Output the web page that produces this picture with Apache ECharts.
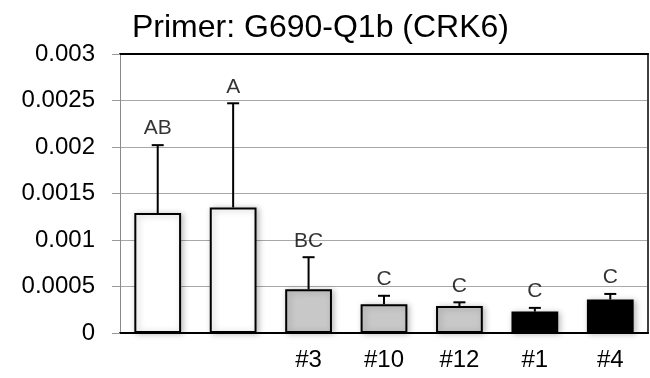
<!DOCTYPE html>
<html>
<head>
<meta charset="utf-8">
<script src="https://cdn.jsdelivr.net/npm/echarts@6/dist/echarts.min.js"></script>
<style>
html,body{margin:0;padding:0;background:#fff;}
#chart{width:650px;height:378px;}
</style>
</head>
<body>
<div id="chart"></div>
<script>
// ---- data ----
const titleText = 'Primer: G690-Q1b (CRK6)';
const categories = ['', '', '#3', '#10', '#12', '#1', '#4'];
const values = [0.00129, 0.00135, 0.00047, 0.00031, 0.00029, 0.00023, 0.00036];
const errorsUp = [0.00073, 0.00112, 0.000345, 0.00009, 0.00004, 0.00004, 0.00006];
const letters = ['AB', 'A', 'BC', 'C', 'C', 'C', 'C'];
const yTickLabels = ['0', '0.0005', '0.001', '0.0015', '0.002', '0.0025', '0.003'];
const yMin = 0, yMax = 0.003, yInterval = 0.0005;

// ---- style ----
const barColors = ['#ffffff', '#ffffff', '#c8c8c8', '#c8c8c8', '#c8c8c8', '#000000', '#000000'];
const FONT = 'Liberation Sans';

const chart = echarts.init(document.getElementById('chart'), null, {renderer: 'canvas'});

const barData = values.map((v, i) => ({
  value: v,
  itemStyle: {color: barColors[i]}
}));
const errData = values.map((v, i) => [i, v, v + errorsUp[i]]);
const letterData = values.map((v, i) => [i, v + errorsUp[i]]);

const option = {
  animation: false,
  backgroundColor: '#ffffff',
  title: {
    text: titleText,
    left: 127,
    top: 7,
    textStyle: {fontFamily: FONT, fontSize: 32, fontWeight: 'normal', color: '#000'}
  },
  grid: {left: 120, right: 2, top: 54, bottom: 45},
  xAxis: [{
    type: 'category',
    data: categories,
    axisLine: {show: true, lineStyle: {color: '#000', width: 2}},
    axisTick: {show: false},
    axisLabel: {fontFamily: FONT, fontSize: 24, color: '#000', margin: 15},
    splitLine: {show: false}
  }, {
    type: 'category',
    position: 'top',
    data: categories,
    axisLine: {show: true, onZero: false, lineStyle: {color: '#000', width: 2}},
    axisTick: {show: false},
    axisLabel: {show: false},
    splitLine: {show: false}
  }],
  yAxis: [{
    type: 'value',
    min: yMin, max: yMax, interval: yInterval,
    axisLine: {show: true, lineStyle: {color: '#8a8a8a', width: 1}},
    axisTick: {show: true, length: 8, lineStyle: {color: '#9a9a9a', width: 1}},
    axisLabel: {
      fontFamily: FONT, fontSize: 24, color: '#000', margin: 25,
      formatter: (val) => {
        const idx = Math.round((val - yMin) / yInterval);
        return yTickLabels[idx] !== undefined ? yTickLabels[idx] : '';
      }
    },
    splitLine: {show: true, lineStyle: {color: '#a8a8a8', width: 1}}
  }, {
    type: 'value',
    position: 'right',
    min: yMin, max: yMax, interval: yInterval,
    axisLine: {show: true, lineStyle: {color: '#404040', width: 2}},
    axisTick: {show: false},
    axisLabel: {show: false},
    splitLine: {show: false}
  }],
  series: [{
    type: 'bar',
    data: barData,
    barWidth: '62%',
    itemStyle: {
      borderColor: '#000',
      borderWidth: 2,
      shadowColor: 'rgba(0,0,0,0.25)',
      shadowBlur: 6,
      shadowOffsetX: 2,
      shadowOffsetY: 1
    },
    z: 2
  }, {
    type: 'custom',
    data: errData,
    z: 3,
    renderItem: function (params, api) {
      const x = api.value(0);
      const lo = api.coord([x, api.value(1)]);
      const hi = api.coord([x, api.value(2)]);
      const cap = 6;
      return {
        type: 'group',
        children: [{
          type: 'line',
          shape: {x1: lo[0], y1: lo[1], x2: hi[0], y2: hi[1]},
          style: {stroke: '#000', lineWidth: 2}
        }, {
          type: 'line',
          shape: {x1: hi[0] - cap, y1: hi[1], x2: hi[0] + cap, y2: hi[1]},
          style: {stroke: '#000', lineWidth: 2}
        }]
      };
    }
  }, {
    type: 'scatter',
    data: letterData,
    symbolSize: 0,
    z: 4,
    label: {
      show: true,
      position: 'top',
      distance: 6,
      fontFamily: FONT,
      fontSize: 21,
      color: '#000',
      formatter: (p) => letters[p.dataIndex]
    }
  }]
};
chart.setOption(option);
</script>
</body>
</html>
